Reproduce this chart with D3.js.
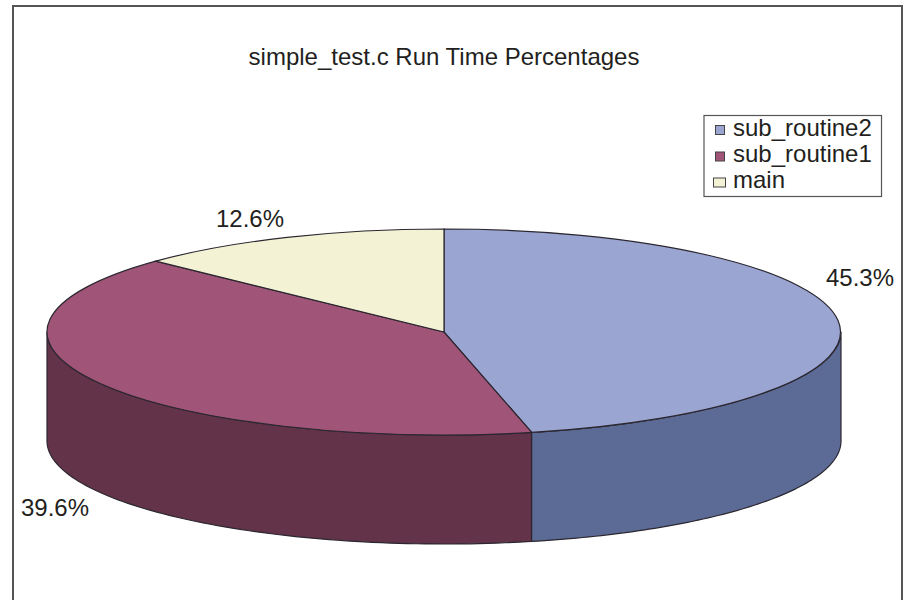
<!DOCTYPE html>
<html>
<head>
<meta charset="utf-8">
<script src="https://cdnjs.cloudflare.com/ajax/libs/d3/7.8.5/d3.min.js"></script>
<style>
  html, body { margin: 0; padding: 0; background: #fff; }
  svg { display: block; }
  text { font-family: "Liberation Sans", Arial, sans-serif; fill: #231f20; }
</style>
</head>
<body>
<svg id="chart" width="911" height="600"></svg>
<script>
const categories = ["sub_routine2", "sub_routine1", "main"];
const values = [45.3, 39.6, 12.6];
const valueLabels = ["45.3%", "39.6%", "12.6%"];
const topColors = ["#9ba5d2", "#a05478", "#f4f2d4"];
const sideColors = ["#5c6b96", "#633349", "#8f8d70"];
const chartTitle = "simple_test.c Run Time Percentages";

const cx = 444, cy = 332, rx = 397, ry = 103, depth = 109;
const edge = "#2b2730";
const fontSize = 24;

const svg = d3.select("#chart");

// Outer frame runs past the bottom of the page
svg.append("rect")
  .attr("x", 13).attr("y", 6).attr("width", 889).attr("height", 620)
  .attr("fill", "#fff").attr("stroke", "#555").attr("stroke-width", 2);

svg.append("text")
  .attr("x", 444).attr("y", 65).attr("text-anchor", "middle")
  .attr("font-size", fontSize).text(chartTitle);

const pie = d3.pie().sort(null).startAngle(0).endAngle(2 * Math.PI);
const arcs = pie(values);

// Map a pie angle (0 = top, clockwise) on to the tilted disc
const sx = a => cx + rx * Math.sin(a);
const sy = (a, drop) => cy - ry * Math.cos(a) + drop;

// Side wall: only the part of each slice on the near half of the disc shows
const near = [Math.PI / 2, 3 * Math.PI / 2];
const wall = svg.append("g");
arcs.forEach((d, i) => {
  const a0 = Math.max(d.startAngle, near[0]);
  const a1 = Math.min(d.endAngle, near[1]);
  if (a1 <= a0) return;
  const steps = d3.range(0, 81).map(k => a0 + (a1 - a0) * k / 80);
  const upper = steps.map(a => [sx(a), sy(a, 0)]);
  const lower = steps.slice().reverse().map(a => [sx(a), sy(a, depth)]);
  wall.append("path")
    .attr("d", d3.line()(upper.concat(lower)) + "Z")
    .attr("fill", sideColors[i])
    .attr("stroke", edge).attr("stroke-width", 1.2).attr("stroke-linejoin", "round");
});

// Top surface: a unit pie squashed into the ellipse
const arc = d3.arc().innerRadius(0).outerRadius(1);
svg.append("g")
  .attr("transform", `translate(${cx},${cy}) scale(${rx},${ry})`)
  .selectAll("path").data(arcs).join("path")
  .attr("d", arc)
  .attr("fill", (d, i) => topColors[i])
  .attr("stroke", edge).attr("stroke-width", 1.2)
  .attr("vector-effect", "non-scaling-stroke");

// Percentage labels
const labelPos = [[860, 286], [55, 516], [250, 227]];
svg.append("g").selectAll("text").data(valueLabels).join("text")
  .attr("x", (d, i) => labelPos[i][0])
  .attr("y", (d, i) => labelPos[i][1])
  .attr("text-anchor", "middle")
  .attr("font-size", fontSize)
  .text(d => d);

// Legend
const legend = svg.append("g");
legend.append("rect")
  .attr("x", 704).attr("y", 115.5).attr("width", 177.5).attr("height", 81)
  .attr("fill", "#fff").attr("stroke", "#555").attr("stroke-width", 1.2);

const rowY = d3.scalePoint().domain(categories).range([136, 188]);
const swatch = [[715.5, 125.5, 9], [715.5, 152, 9], [713.5, 178, 12]];
categories.forEach((c, i) => {
  const [x, y, s] = swatch[i];
  legend.append("rect")
    .attr("x", x).attr("y", y).attr("width", s).attr("height", s * (i === 2 ? 0.75 : 1))
    .attr("fill", topColors[i]).attr("stroke", "#444").attr("stroke-width", 1);
  legend.append("text")
    .attr("x", 733).attr("y", rowY(c))
    .attr("font-size", fontSize).text(c);
});
</script>
</body>
</html>
